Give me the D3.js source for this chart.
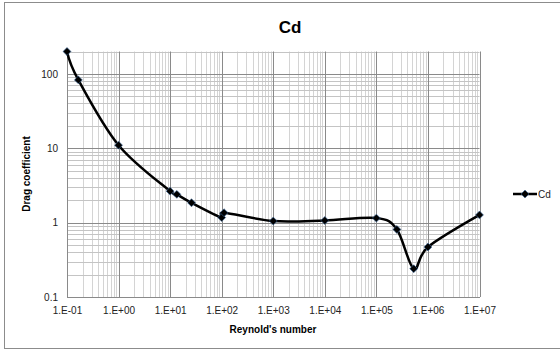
<!DOCTYPE html>
<html>
<head>
<meta charset="utf-8">
<script src="https://cdn.jsdelivr.net/npm/d3@7"></script>
<style>
  body { margin: 0; background: #fff; }
  svg { display: block; font-family: "Liberation Sans", Arial, sans-serif; }
</style>
</head>
<body>
<div id="chart"></div>
<script>
// Reynolds number vs drag coefficient
let reynolds = [0.1, 0.166, 1, 10, 13.5, 26, 100, 111, 1000, 10000, 100000, 250000, 530000, 1000000, 10000000],
    cd = [200, 83, 11, 2.65, 2.4, 1.85, 1.17, 1.36, 1.05, 1.07, 1.15, 0.81, 0.24, 0.47, 1.27],
    xTicks = [1e-1, 1e0, 1e1, 1e2, 1e3, 1e4, 1e5, 1e6, 1e7],
    xTickLabels = ["1.E-01", "1.E+00", "1.E+01", "1.E+02", "1.E+03", "1.E+04", "1.E+05", "1.E+06", "1.E+07"],
    yTicks = [0.1, 1, 10, 100],
    yTickLabels = ["0.1", "1", "10", "100"];

const width = 560,
      height = 351,
      plotLeft = 67, plotRight = 479.5, plotTop = 51.5, plotBottom = 297;

const svg = d3.select("#chart")
    .append("svg")
    .attr("width", width)
    .attr("height", height);

// outer chart border
svg.append("rect")
    .attr("x", 4.5).attr("y", 2.5)
    .attr("width", 560).attr("height", 346)
    .attr("fill", "#fff")
    .attr("stroke", "#8c8c8c")
    .attr("stroke-width", 1);

// Scales
const xScale = d3.scaleLog()
    .domain([0.1, 1e7])
    .range([plotLeft, plotRight]);

const yScale = d3.scaleLog()
    .domain([0.1, 200])
    .range([plotBottom, plotTop]);

// minor grid values (2..9 in every decade)
const xMinor = [], yMinor = [];
for (let e = -1; e < 7; e++) {
    for (let m = 2; m <= 9; m++) xMinor.push(m * Math.pow(10, e));
}
for (let e = -1; e < 3; e++) {
    for (let m = 2; m <= 9; m++) {
        const v = m * Math.pow(10, e);
        if (v <= 200) yMinor.push(v);
    }
}

const grid = svg.append("g").attr("class", "grid");

grid.selectAll(".vminor")
    .data(xMinor)
    .enter()
    .append("line")
    .attr("x1", d => Math.round(xScale(d)) + 0.5)
    .attr("x2", d => Math.round(xScale(d)) + 0.5)
    .attr("y1", plotTop).attr("y2", plotBottom)
    .attr("stroke", "#d4d4d4");

grid.selectAll(".hminor")
    .data(yMinor)
    .enter()
    .append("line")
    .attr("x1", plotLeft).attr("x2", plotRight)
    .attr("y1", d => Math.round(yScale(d)) + 0.5)
    .attr("y2", d => Math.round(yScale(d)) + 0.5)
    .attr("stroke", "#c4c4c4");

grid.selectAll(".vmajor")
    .data(xTicks)
    .enter()
    .append("line")
    .attr("x1", d => Math.round(xScale(d)) + 0.5)
    .attr("x2", d => Math.round(xScale(d)) + 0.5)
    .attr("y1", plotTop).attr("y2", plotBottom)
    .attr("stroke", "#8a8a8a");

grid.selectAll(".hmajor")
    .data(yTicks)
    .enter()
    .append("line")
    .attr("x1", plotLeft).attr("x2", plotRight)
    .attr("y1", d => Math.round(yScale(d)) + 0.5)
    .attr("y2", d => Math.round(yScale(d)) + 0.5)
    .attr("stroke", "#8a8a8a");

// Axes
const xAxis = d3.axisBottom(xScale)
    .tickValues(xTicks)
    .tickFormat((d, i) => xTickLabels[i])
    .tickSize(0)
    .tickPadding(10);

const yAxis = d3.axisLeft(yScale)
    .tickValues(yTicks)
    .tickFormat((d, i) => yTickLabels[i])
    .tickSize(0)
    .tickPadding(9);

const gx = svg.append("g")
    .attr("id", "x-axis")
    .attr("transform", "translate(0," + plotBottom + ")")
    .call(xAxis);
gx.select(".domain").attr("stroke", "#8a8a8a");
gx.selectAll("text").attr("font-size", 10).attr("fill", "#222");

const gy = svg.append("g")
    .attr("id", "y-axis")
    .attr("transform", "translate(" + plotLeft + ",0)")
    .call(yAxis);
gy.select(".domain").attr("stroke", "#8a8a8a");
gy.selectAll("text").attr("font-size", 10).attr("fill", "#222");

// Line
const line = d3.line()
    .x((d, i) => xScale(reynolds[i]))
    .y(d => yScale(d))
    .curve(d3.curveCatmullRom.alpha(0));

svg.append("path")
    .datum(cd)
    .attr("d", line)
    .attr("fill", "none")
    .attr("stroke", "#000")
    .attr("stroke-width", 2.5);

const diamond = d3.symbol().type(d3.symbolDiamond2).size(40);

svg.selectAll(".marker")
    .data(cd)
    .enter()
    .append("path")
    .attr("class", "marker")
    .attr("d", diamond)
    .attr("transform", (d, i) => "translate(" + xScale(reynolds[i]) + "," + yScale(d) + ")")
    .attr("fill", "#000")
    .attr("stroke", "#3d6a9e")
    .attr("stroke-width", 0.6);

// Titles
svg.append("text")
    .attr("x", 290).attr("y", 33)
    .attr("text-anchor", "middle")
    .attr("font-size", 17)
    .attr("font-weight", "bold")
    .text("Cd");

svg.append("text")
    .attr("x", 273).attr("y", 333)
    .attr("text-anchor", "middle")
    .attr("font-size", 10)
    .attr("font-weight", "bold")
    .text("Reynold's number");

svg.append("text")
    .attr("transform", "translate(30,174) rotate(-90)")
    .attr("text-anchor", "middle")
    .attr("font-size", 10)
    .attr("font-weight", "bold")
    .text("Drag coefficient");

// Legend
const legend = svg.append("g").attr("transform", "translate(513,194)");
legend.append("line")
    .attr("x1", 0).attr("x2", 24)
    .attr("stroke", "#000").attr("stroke-width", 2.5);
legend.append("path")
    .attr("d", diamond)
    .attr("transform", "translate(12,0)")
    .attr("fill", "#000")
    .attr("stroke", "#3d6a9e")
    .attr("stroke-width", 0.6);
legend.append("text")
    .attr("x", 25).attr("y", 4)
    .attr("font-size", 10)
    .attr("fill", "#222")
    .text("Cd");
</script>
</body>
</html>
